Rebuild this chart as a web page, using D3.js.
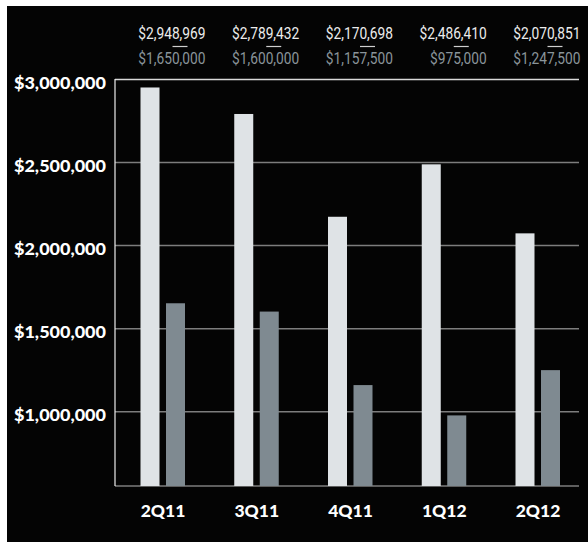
<!DOCTYPE html>
<html>
<head>
<meta charset="utf-8">
<script src="https://cdn.jsdelivr.net/npm/d3@7"></script>
<style>
  html, body { margin: 0; padding: 0; background: #ffffff; }
  svg { display: block; }
</style>
</head>
<body>
<svg id="chart" width="588" height="544"></svg>
<script>
// Quarterly figures: the taller light bar and the shorter grey bar per quarter
const quarters = ["2Q11", "3Q11", "4Q11", "1Q12", "2Q12"];
const upperValues = [2948969, 2789432, 2170698, 2486410, 2070851];
const lowerValues = [1650000, 1600000, 1157500, 975000, 1247500];
const yTickValues = [1000000, 1500000, 2000000, 2500000, 3000000];

const W = 588, H = 544;
const plot = { left: 115, right: 579, top: 79, bottom: 486 };
const barW = 19, barGap = 7;

const colors = {
  panel: "#040404",
  upper: "#dfe3e6",
  lower: "#7f8a91",
  grid: "#7d7d7d",
  frame: "#d9d9d9",
  upperText: "#ececec",
  lowerText: "#8a949a",
  axisText: "#ffffff"
};

const svg = d3.select("#chart");

// dark panel
svg.append("rect")
  .attr("x", 7).attr("y", 6)
  .attr("width", W - 7).attr("height", 542 - 6)
  .attr("fill", colors.panel);

const x = d3.scalePoint()
  .domain(quarters)
  .range([162.5, 537.5]);

const y = d3.scaleLinear()
  .domain([550000, 3000000])
  .range([plot.bottom, plot.top]);

const fmt = d3.format("$,");

// gridlines and value labels on the left
const yAxis = svg.append("g")
  .attr("transform", `translate(${plot.left},0)`)
  .call(d3.axisLeft(y)
    .tickValues(yTickValues)
    .tickSize(-(plot.right - plot.left))
    .tickPadding(9)
    .tickFormat(fmt));

yAxis.select(".domain").remove();
yAxis.selectAll(".tick line")
  .attr("stroke", d => d === 3000000 ? colors.frame : colors.grid)
  .attr("stroke-width", 1.5);
yAxis.selectAll(".tick text")
  .attr("fill", colors.axisText)
  .attr("dy", "9px")
  .attr("font-family", "Lato, 'Open Sans', sans-serif")
  .attr("font-weight", 900)
  .attr("font-size", "16px")
  .attr("textLength", 92)
  .attr("lengthAdjust", "spacingAndGlyphs");

// baseline
svg.append("line")
  .attr("x1", plot.left).attr("x2", plot.right)
  .attr("y1", y.range()[0]).attr("y2", y.range()[0])
  .attr("stroke", colors.grid)
  .attr("stroke-width", 1.5);

// bars
const groups = svg.append("g").selectAll("g")
  .data(quarters.map((q, i) => ({ q, upper: upperValues[i], lower: lowerValues[i] })))
  .join("g");

groups.append("rect")
  .attr("x", d => x(d.q) - barW - barGap / 2 + 0.5)
  .attr("width", barW)
  .attr("y", d => y(d.upper))
  .attr("height", d => y.range()[0] - y(d.upper))
  .attr("fill", colors.upper);

groups.append("rect")
  .attr("x", d => x(d.q) + barGap / 2)
  .attr("width", barW)
  .attr("y", d => y(d.lower))
  .attr("height", d => y.range()[0] - y(d.lower))
  .attr("fill", colors.lower);

// left axis line
svg.append("line")
  .attr("x1", plot.left).attr("x2", plot.left)
  .attr("y1", plot.top).attr("y2", plot.bottom)
  .attr("stroke", "#eeeeee")
  .attr("stroke-width", 1.2);

// quarter labels
svg.append("g")
  .attr("transform", `translate(0,${plot.bottom})`)
  .call(d3.axisBottom(x).tickSize(0).tickPadding(0))
  .call(g => g.select(".domain").remove())
  .call(g => g.selectAll(".tick text")
    .attr("y", 31)
    .attr("dy", null)
    .attr("fill", colors.axisText)
    .attr("font-family", "Lato, 'Open Sans', sans-serif")
    .attr("font-weight", 900)
    .attr("font-size", "17.5px"));

// figures stacked above each quarter
const header = svg.append("g").selectAll("g")
  .data(quarters.map((q, i) => ({ q, upper: upperValues[i], lower: lowerValues[i] })))
  .join("g");

header.append("g")
  .attr("transform", d => `translate(${x(d.q) + 43},38.5) scale(0.86,1)`)
  .append("text")
  .attr("text-anchor", "end")
  .attr("font-family", "Roboto, 'Noto Sans', sans-serif")
  .attr("font-size", "16px")
  .attr("fill", colors.upperText)
  .text(d => fmt(d.upper));

header.append("line")
  .attr("x1", d => x(d.q) + 10)
  .attr("x2", d => x(d.q) + 25)
  .attr("y1", 46.5).attr("y2", 46.5)
  .attr("stroke", "#cfcfcf")
  .attr("stroke-width", 1.2);

header.append("g")
  .attr("transform", d => `translate(${x(d.q) + 43},63.5) scale(0.86,1)`)
  .append("text")
  .attr("text-anchor", "end")
  .attr("font-family", "Roboto, 'Noto Sans', sans-serif")
  .attr("font-size", "16px")
  .attr("fill", colors.lowerText)
  .text(d => fmt(d.lower));
</script>
</body>
</html>
